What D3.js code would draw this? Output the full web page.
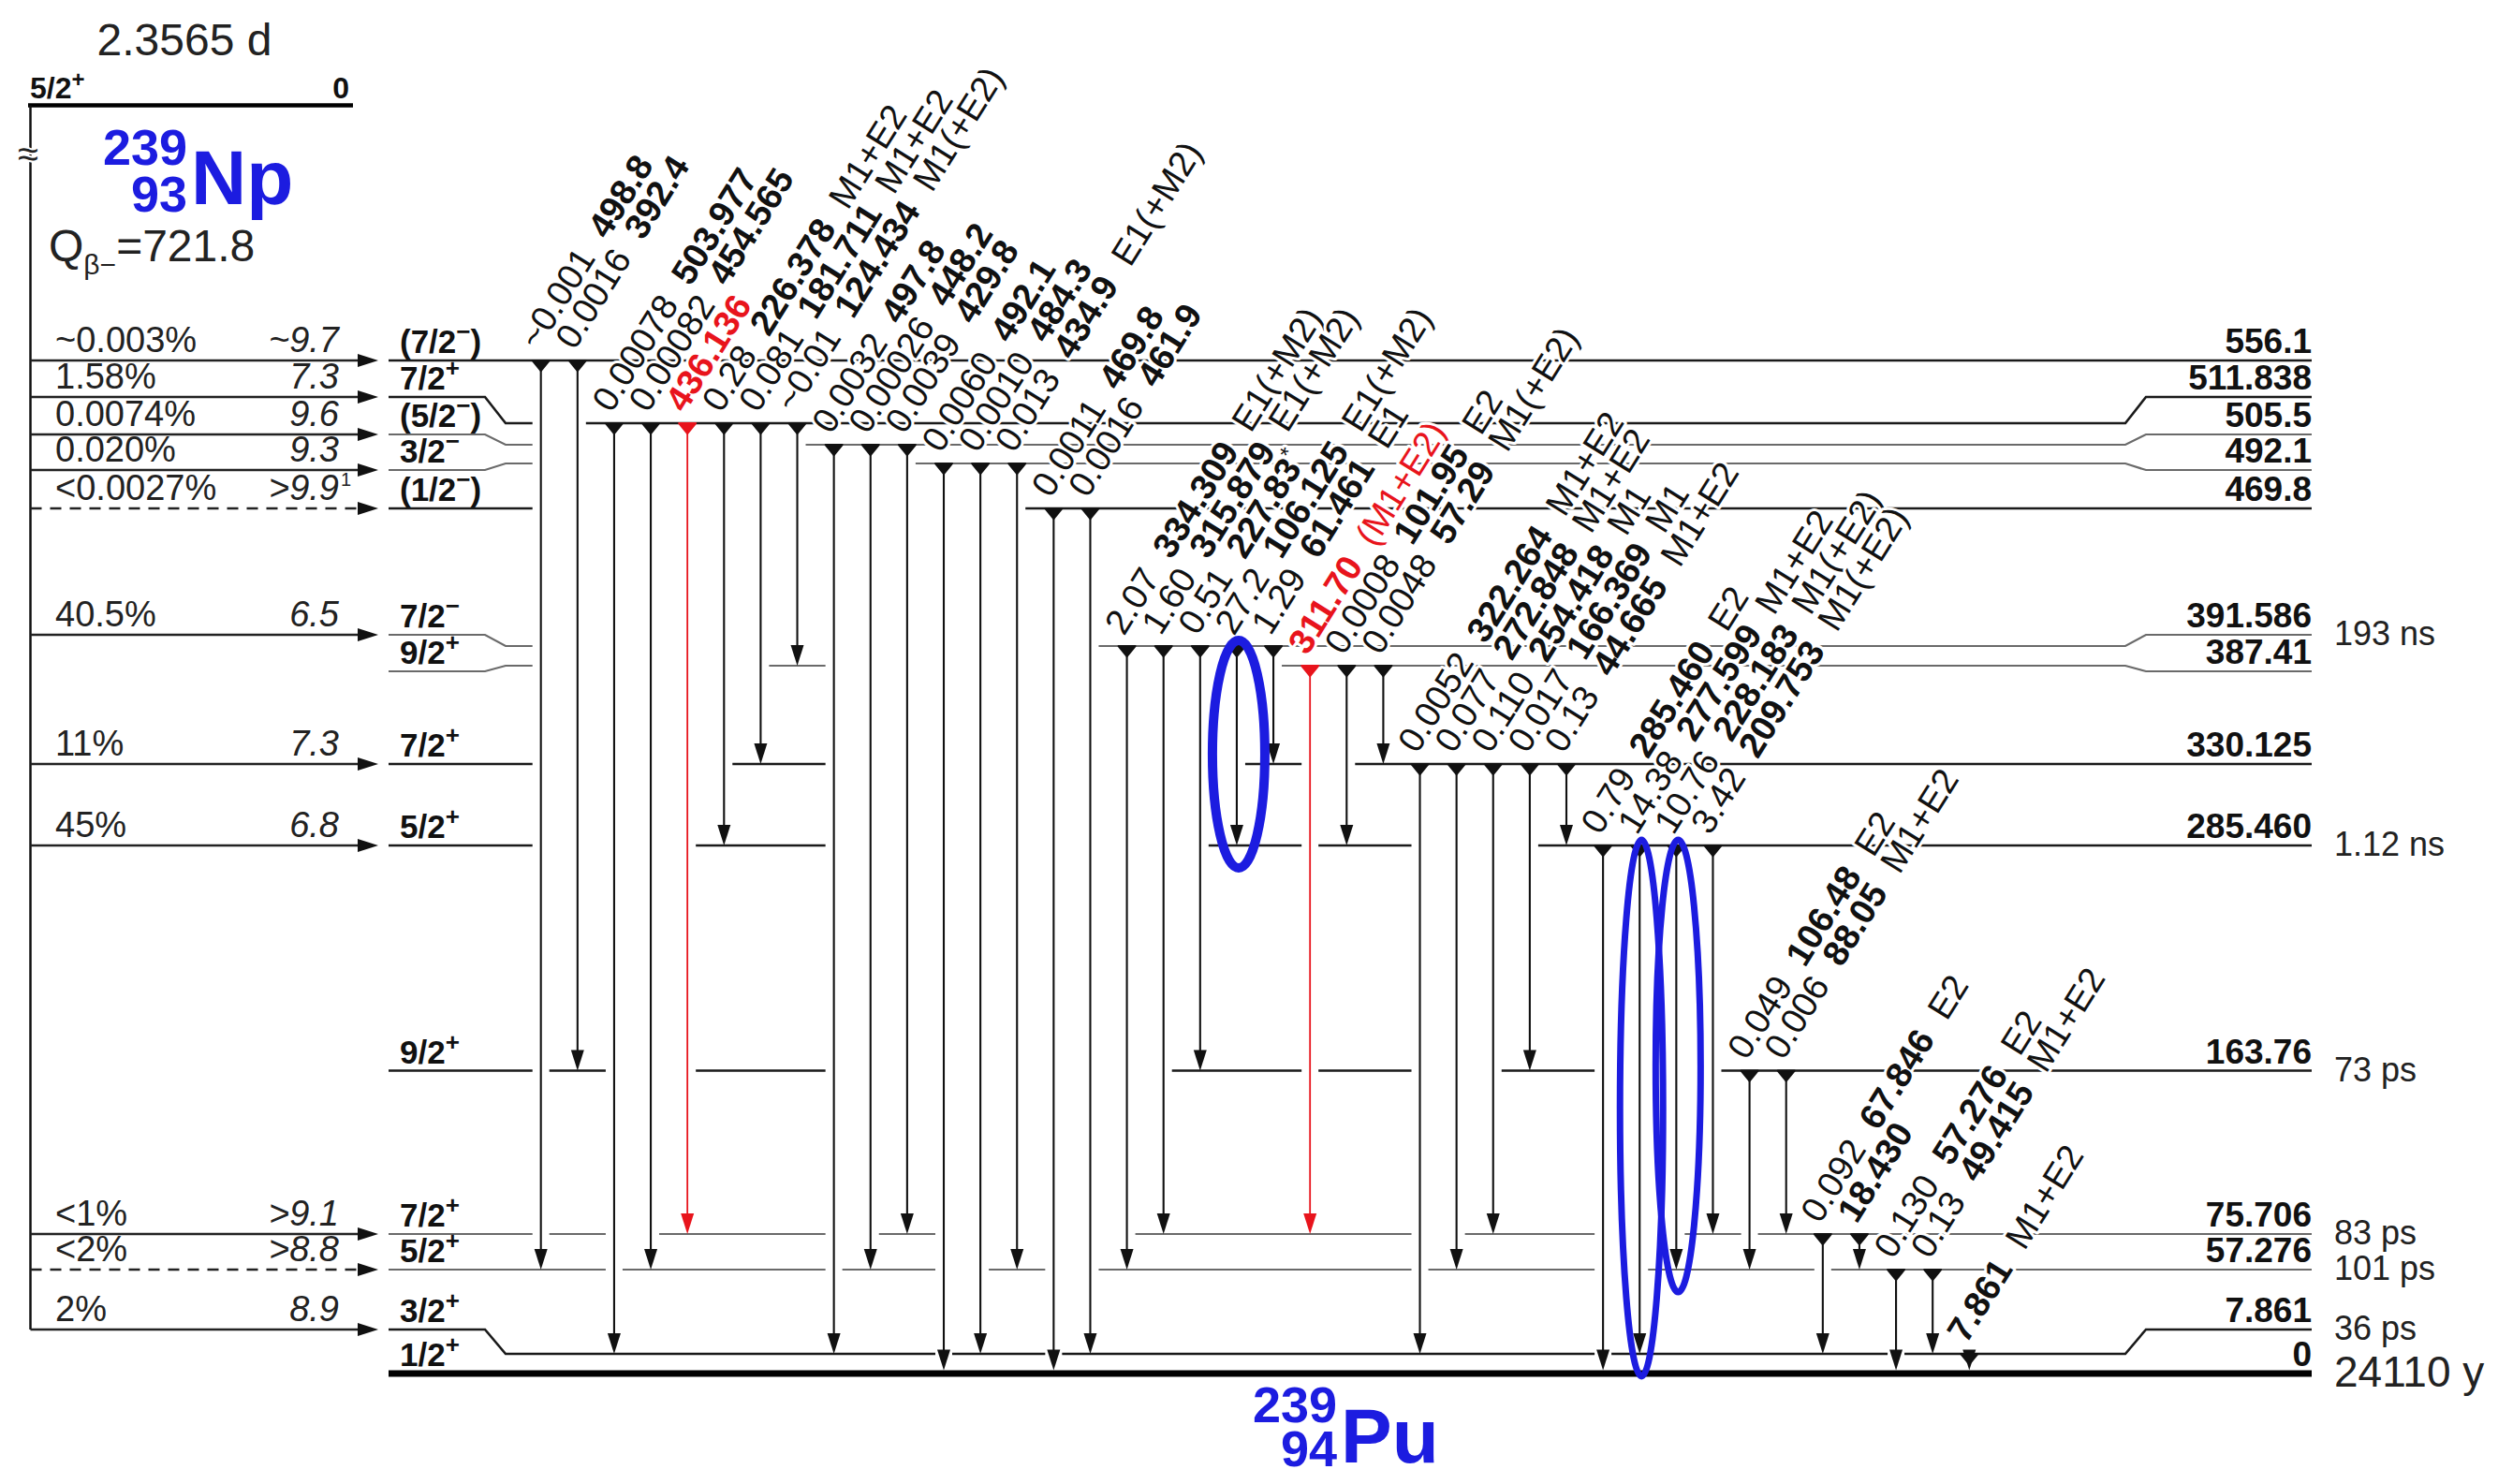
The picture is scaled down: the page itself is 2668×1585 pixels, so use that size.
<!DOCTYPE html>
<html><head><meta charset="utf-8">
<script src="https://cdn.jsdelivr.net/npm/d3@7"></script>
<style>
html,body{margin:0;padding:0;background:#fff;}
svg{display:block;font-family:"Liberation Sans",Arial,Helvetica,sans-serif;}
</style></head><body>
<svg id="chart" width="2668" height="1585"></svg>
<script>
// ================= DATA =================
const parentHalfLife = "2.3565 d";
const parentSpin = "5/2+";
const parentEnergy = "0";
const parentA = "239", parentZ = "93", parentSym = "Np";
const qLabel = "721.8";
const daughterA = "239", daughterZ = "94", daughterSym = "Pu";

const levelEnergy = [0, 7.861, 57.276, 75.706, 163.76, 285.460, 330.125, 387.41, 391.586, 469.8, 492.1, 505.5, 511.838, 556.1];
const levelEnergyLabel = ["0","7.861","57.276","75.706","163.76","285.460","330.125","387.41","391.586","469.8","492.1","505.5","511.838","556.1"];
const levelSpin = ["1/2+","3/2+","5/2+","7/2+","9/2+","5/2+","7/2+","9/2+","7/2−","(1/2−)","3/2−","(5/2−)","7/2+","(7/2−)"];
const levelHalfLife = ["24110 y","36 ps","101 ps","83 ps","73 ps","1.12 ns","","","193 ns","","","","",""];

const betaLevel = [556.1, 511.838, 505.5, 492.1, 469.8, 391.586, 330.125, 285.460, 75.706, 57.276, 7.861];
const betaIntensity = ["~0.003%","1.58%","0.0074%","0.020%","<0.0027%","40.5%","11%","45%","<1%","<2%","2%"];
const betaLogft = ["~9.7","7.3","9.6","9.3",">9.9","6.5","7.3","6.8",">9.1",">8.8","8.9"];
const betaLogftNote = ["","","","","1","","","","","",""];
const betaUncertain = [false,false,false,false,true,false,false,false,false,true,false];

const gammaFrom = [556.1,556.1, 511.838,511.838,511.838,511.838,511.838,511.838, 505.5,505.5,505.5, 492.1,492.1,492.1, 469.8,469.8,
  391.586,391.586,391.586,391.586,391.586, 387.41,387.41,387.41, 330.125,330.125,330.125,330.125,330.125,
  285.460,285.460,285.460,285.460, 163.76,163.76, 75.706,75.706, 57.276,57.276, 7.861];
const gammaTo = [57.276,163.76, 7.861,57.276,75.706,285.460,330.125,387.41, 7.861,57.276,75.706, 0,7.861,57.276, 0,7.861,
  57.276,75.706,163.76,285.460,330.125, 75.706,285.460,330.125, 7.861,57.276,75.706,163.76,285.460,
  0,7.861,57.276,75.706, 57.276,75.706, 7.861,57.276, 0,7.861, 0];
const gammaIntensity = ["~0.001","0.0016","0.00078","0.00082","","0.28","0.081","~0.01","0.0032","0.00026","0.0039","0.0060","0.0010","0.013","0.0011","0.0016",
  "2.07","1.60","0.51","27.2","1.29","","0.0008","0.0048","0.0052","0.077","0.110","0.017","0.13",
  "0.79","14.38","10.76","3.42","0.049","0.006","0.092","","0.130","0.13",""];
const gammaEnergy = ["498.8","392.4","503.977","454.565","436.136","226.378","181.711","124.434","497.8","448.2","429.8","492.1","484.3","434.9","469.8","461.9",
  "334.309","315.879","227.83*","106.125","61.461","311.70","101.95","57.29","322.264","272.848","254.418","166.369","44.665",
  "285.460","277.599","228.183","209.753","106.48","88.05","67.846","18.430","57.276","49.415","7.861"];
const gammaMult = ["","","","","","M1+E2","M1+E2","M1(+E2)","","","","","","E1(+M2)","","",
  "E1(+M2)","E1(+M2)","","E1(+M2)","E1","(M1+E2)","E2","M1(+E2)","M1+E2","M1+E2","M1","M1","M1+E2",
  "E2","M1+E2","M1(+E2)","M1(+E2)","E2","M1+E2","E2","","E2","M1+E2","M1+E2"];
const gammaHighlighted = ["436.136","311.70"];
const gammaCircled = ["106.125","277.599","228.183"];

// ================= LAYOUT =================
const W = 2668, H = 1585;
const BLUE = "#1c1ce0", RED = "#e8141c", INK = "#111", GRAY = "#6a6a6a";

const svg = d3.select("#chart");
svg.append("rect").attr("width", W).attr("height", H).attr("fill", "#fff");
const gLevels = svg.append("g"), gTrans = svg.append("g"), gText = svg.append("g"), gAnno = svg.append("g");

// vertical scales: middle part of each level, and label (end) parts of each level
const y = d3.scaleLinear().domain(levelEnergy)
  .range([1467,1446,1356,1318,1143.5,903,816,711,690,543,495,475,452,385]);
const yLab = d3.scaleLinear().domain(levelEnergy)
  .range([1467,1420,1356,1318,1143.5,903,816,717,678,543,502,464,424,385]);
// horizontal scale: transitions, evenly spaced
const x = d3.scalePoint().domain(d3.range(gammaEnergy.length)).range([577.7, 2103.3]);

const XL0 = 415, XL1 = 518, XM0 = 540, XM1 = 2270, XR0 = 2292, XR1 = 2469;
const darkLevels = new Set([7.861, 163.76, 285.460, 330.125, 469.8, 511.838, 556.1]);

const gammas = gammaEnergy.map((e, i) => ({
  i, e, from: gammaFrom[i], to: gammaTo[i], I: gammaIntensity[i], M: gammaMult[i],
  red: gammaHighlighted.includes(e), x: x(i)
}));
const step = x.step();

// ---------- levels ----------
levelEnergy.forEach((e, i) => {
  const yl = yLab(e), ym = y(e);
  if (e === 0) {
    gLevels.append("line").attr("x1", XL0).attr("x2", XR1).attr("y1", ym).attr("y2", ym)
      .attr("stroke", "#000").attr("stroke-width", 7);
  } else {
    // transitions that pass through this level: merge neighbouring crossings into one gap
    const xs = gammas.filter(g => g.from > e && g.to < e).map(g => g.x).sort(d3.ascending);
    const runs = [];
    xs.forEach(v => {
      const last = runs[runs.length - 1];
      if (last && v - last[1] < step * 1.2) last[1] = v; else runs.push([v, v]);
    });
    let d = `M${XL0},${yl}L${XL1},${yl}L${XM0},${ym}`;
    runs.forEach(([a, b]) => { d += `L${a - 9},${ym}M${b + 9},${ym}`; });
    d += `L${XM1},${ym}L${XR0},${yl}L${XR1},${yl}`;
    const dark = darkLevels.has(e);
    gLevels.append("path").attr("d", d).attr("fill", "none")
      .attr("stroke", dark ? "#1a1a1a" : GRAY).attr("stroke-width", dark ? 2.6 : 2.2);
  }
  // spin label (left)
  const sp = levelSpin[i];
  const m = sp.match(/^(\(?)([\d\/]+)([+−])(\)?)$/);
  const t = gText.append("text").attr("x", 427).attr("y", yl - 8)
    .attr("font-size", 35).attr("font-weight", "bold").attr("fill", INK);
  t.append("tspan").text(m[1] + m[2]);
  t.append("tspan").attr("font-size", 26).attr("dy", -14).text(m[3]);
  if (m[4]) t.append("tspan").attr("font-size", 35).attr("dy", 14).text(m[4]);
  // energy label (right)
  gText.append("text").attr("x", XR1).attr("y", yl - 8).attr("text-anchor", "end")
    .attr("font-size", 37).attr("font-weight", "bold").attr("fill", INK).text(levelEnergyLabel[i]);
  // half-life
  if (levelHalfLife[i]) {
    gText.append("text").attr("x", 2493).attr("y", e === 0 ? yl + 14 : yl + 11)
      .attr("font-size", e === 0 ? 46 : 36).attr("fill", "#222").text(levelHalfLife[i]);
  }
});

// ---------- gamma transitions ----------
gammas.forEach(g => {
  const col = g.red ? RED : INK;
  const y0 = y(g.from);
  const yEnd = g.to === 0 ? y(0) - 3.5 : y(g.to);
  gTrans.append("line").attr("x1", g.x).attr("x2", g.x).attr("y1", y0 + 6).attr("y2", yEnd - 18)
    .attr("stroke", col).attr("stroke-width", g.red ? 1.8 : 2.1);
  gTrans.append("path").attr("d", `M${g.x - 9},${y0}L${g.x + 9},${y0}L${g.x},${y0 + 11}Z`)
    .attr("fill", col).attr("stroke", col).attr("stroke-width", 2).attr("stroke-linejoin", "round");
  gTrans.append("path").attr("d", `M${g.x},${yEnd}L${g.x - 7},${yEnd - 22}L${g.x + 7},${yEnd - 22}Z`)
    .attr("fill", col);

  const t = gText.append("text")
    .attr("transform", `translate(${g.x - 3},${y0 - 10}) rotate(-58)`)
    .attr("font-size", 38).attr("fill", col)
    .attr("stroke", "#fff").attr("stroke-width", 6).attr("paint-order", "stroke").attr("stroke-linejoin", "round");
  if (g.I) t.append("tspan").text(g.I);
  const star = g.e.endsWith("*");
  t.append("tspan").attr("dx", g.I ? 22 : 0).attr("font-weight", "bold").text(star ? g.e.slice(0, -1) : g.e);
  let dyReset = 0;
  if (star) { t.append("tspan").attr("font-size", 24).attr("dy", -14).text("*"); dyReset = 14; }
  if (g.M) t.append("tspan").attr("dx", 22).attr("dy", dyReset).text(g.M);
});

// ---------- parent and beta feeding ----------
gText.append("text").attr("x", 197).attr("y", 59).attr("text-anchor", "middle")
  .attr("font-size", 48).attr("fill", "#222").text(parentHalfLife);
gLevels.append("line").attr("x1", 30).attr("x2", 377).attr("y1", 112.5).attr("y2", 112.5)
  .attr("stroke", "#000").attr("stroke-width", 4.5);
{
  const m = parentSpin.match(/^([\d\/]+)([+−])$/);
  const t = gText.append("text").attr("x", 32).attr("y", 105).attr("font-size", 32)
    .attr("font-weight", "bold").attr("fill", INK);
  t.append("tspan").text(m[1]);
  t.append("tspan").attr("font-size", 24).attr("dy", -12).text(m[2]);
  gText.append("text").attr("x", 373).attr("y", 105).attr("text-anchor", "end")
    .attr("font-size", 32).attr("font-weight", "bold").attr("fill", INK).text(parentEnergy);
}
// nuclide labels
function nuclide(xr, yA, yZ, yS, A, Z, S) {
  gText.append("text").attr("x", xr).attr("y", yA).attr("text-anchor", "end")
    .attr("font-size", 54).attr("font-weight", "bold").attr("fill", BLUE).text(A);
  gText.append("text").attr("x", xr).attr("y", yZ).attr("text-anchor", "end")
    .attr("font-size", 54).attr("font-weight", "bold").attr("fill", BLUE).text(Z);
  gText.append("text").attr("x", xr + 4).attr("y", yS)
    .attr("font-size", 82).attr("font-weight", "bold").attr("fill", BLUE).text(S);
}
nuclide(200, 176, 226, 218, parentA, parentZ, parentSym);
nuclide(1428, 1519, 1566, 1562, daughterA, daughterZ, daughterSym);
{
  const t = gText.append("text").attr("x", 52).attr("y", 279).attr("font-size", 48).attr("fill", "#222");
  t.append("tspan").text("Q");
  t.append("tspan").attr("font-size", 30).attr("dy", 14).text("β−");
  t.append("tspan").attr("dy", -14).text("=" + qLabel);
}
gLevels.append("line").attr("x1", 32.5).attr("x2", 32.5).attr("y1", 112.5).attr("y2", yLab(betaLevel[betaLevel.length - 1]))
  .attr("stroke", "#111").attr("stroke-width", 2.5);
gText.append("text").attr("x", 30).attr("y", 178).attr("text-anchor", "middle")
  .attr("font-size", 40).attr("fill", "#222")
  .attr("stroke", "#fff").attr("stroke-width", 4).attr("paint-order", "stroke").text("≈");

betaLevel.forEach((e, i) => {
  const yy = yLab(e);
  gLevels.append("line").attr("x1", 32.5).attr("x2", 384).attr("y1", yy).attr("y2", yy)
    .attr("stroke", "#222").attr("stroke-width", 2.4)
    .attr("stroke-dasharray", betaUncertain[i] ? "12,9" : null);
  gLevels.append("path").attr("d", `M404,${yy}L382,${yy - 7}L382,${yy + 7}Z`).attr("fill", "#111");
  gText.append("text").attr("x", 59).attr("y", yy - 9).attr("font-size", 38).attr("fill", "#222")
    .text(betaIntensity[i]);
  gText.append("text").attr("x", 362).attr("y", yy - 9).attr("text-anchor", "end")
    .attr("font-size", 38).attr("font-style", "italic").attr("fill", "#222").text(betaLogft[i]);
  if (betaLogftNote[i]) gText.append("text").attr("x", 364).attr("y", yy - 24)
    .attr("font-size", 20).attr("fill", "#222").text(betaLogftNote[i]);
});

// ---------- annotation ellipses ----------
const annoStroke = [10, 7, 7], annoRx = [28, 23, 24];
gammaCircled.forEach((e, k) => {
  const g = gammas.find(d => d.e === e);
  const top = y(g.from) - 6, bot = (g.to === 0 ? y(0) : y(g.to)) + 24;
  gAnno.append("ellipse").attr("cx", g.x + 2).attr("cy", (top + bot) / 2)
    .attr("rx", annoRx[k]).attr("ry", (bot - top) / 2)
    .attr("fill", "none").attr("stroke", BLUE).attr("stroke-width", annoStroke[k]);
});
</script>
</body></html>
